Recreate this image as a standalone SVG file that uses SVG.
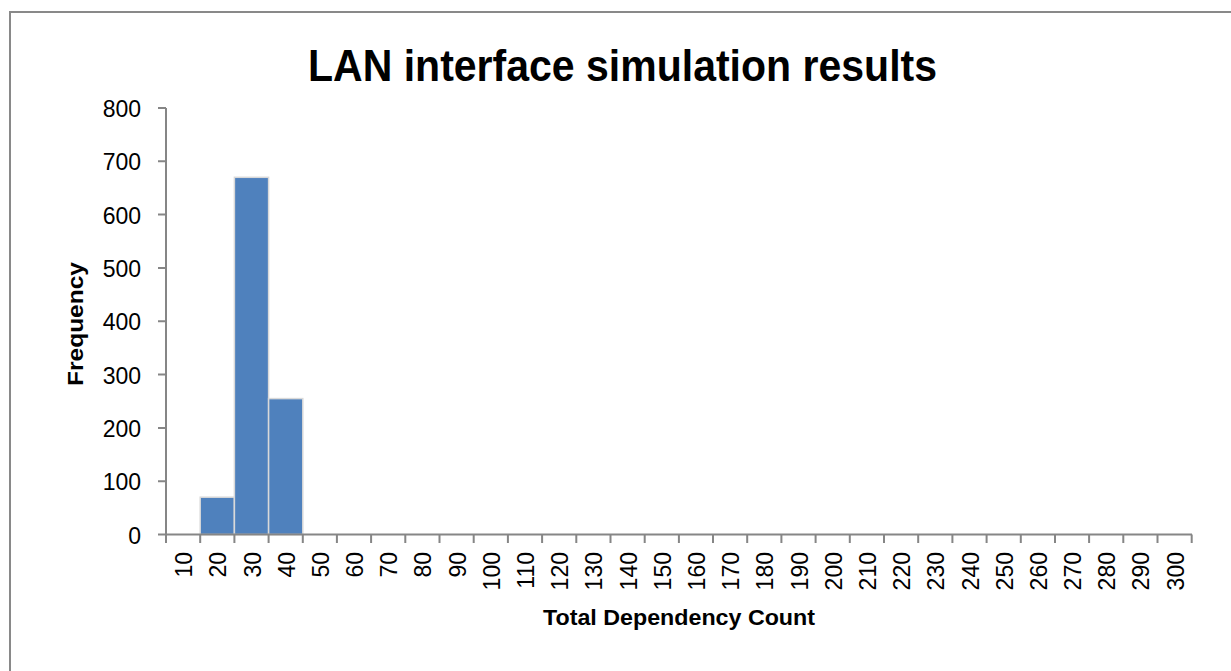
<svg xmlns="http://www.w3.org/2000/svg" width="1231" height="671" viewBox="0 0 1231 671">
  <style>
    .frame { fill: #ffffff; stroke: #898989; stroke-width: 2; }
    .axis { stroke: #868686; stroke-width: 2; fill: none; }
    .bar { fill: #4f81bd; stroke: #d9d9d9; stroke-width: 1.5; }
    .tick { font-family: "Liberation Sans", Arial, sans-serif; font-size: 23px; fill: #000000; }
    .title { font-family: "Liberation Sans", Arial, sans-serif; font-weight: bold; fill: #000000; }
  </style>

  <!-- chart area frame -->
  <rect class="frame" x="10" y="12" width="1240" height="680"/>

  <!-- chart title -->
  <g id="chart-title">
    <text class="title" x="622.5" y="81" font-size="44" text-anchor="middle" textLength="629" lengthAdjust="spacingAndGlyphs">LAN interface simulation results</text>
  </g>

  <!-- histogram bars (bin width 34.19 px, 0.5331 px per count) -->
  <g id="bars">
    <rect class="bar" x="200.2" y="497.2" width="34.2" height="37.3"/>
    <rect class="bar" x="234.4" y="177.3" width="34.2" height="357.2"/>
    <rect class="bar" x="268.6" y="398.6" width="34.2" height="135.9"/>
  </g>

  <!-- axes with tick marks -->
  <g id="axes">
    <path class="axis" d="M166 108 V534.5 M166 534.5 H1192"/>
    <path class="axis" d="M158 108 H166 M158 161.3 H166 M158 214.6 H166 M158 267.9 H166 M158 321.2 H166 M158 374.6 H166 M158 427.9 H166 M158 481.2 H166 M158 534.5 H166"/>
    <path class="axis" d="M166 534.5 V543 M200.2 534.5 V543 M234.4 534.5 V543 M268.6 534.5 V543 M302.8 534.5 V543 M336.9 534.5 V543 M371.1 534.5 V543 M405.3 534.5 V543 M439.5 534.5 V543 M473.7 534.5 V543 M507.9 534.5 V543 M542.1 534.5 V543 M576.3 534.5 V543 M610.5 534.5 V543 M644.7 534.5 V543 M678.9 534.5 V543 M713 534.5 V543 M747.2 534.5 V543 M781.4 534.5 V543 M815.6 534.5 V543 M849.8 534.5 V543 M884 534.5 V543 M918.2 534.5 V543 M952.4 534.5 V543 M986.6 534.5 V543 M1020.8 534.5 V543 M1055 534.5 V543 M1089.1 534.5 V543 M1123.3 534.5 V543 M1157.5 534.5 V543 M1191.7 534.5 V543"/>
  </g>

  <!-- value axis labels -->
  <g id="y-labels" class="tick" text-anchor="end">
    <text x="141" y="117">800</text>
    <text x="141" y="170.3">700</text>
    <text x="141" y="223.6">600</text>
    <text x="141" y="276.9">500</text>
    <text x="141" y="330.2">400</text>
    <text x="141" y="383.6">300</text>
    <text x="141" y="436.9">200</text>
    <text x="141" y="490.2">100</text>
    <text x="141" y="543.5">0</text>
  </g>

  <!-- category axis labels, rotated -->
  <g id="x-labels" class="tick" text-anchor="end">
    <text transform="translate(192.1 552) rotate(-90)">10</text>
    <text transform="translate(226.3 552) rotate(-90)">20</text>
    <text transform="translate(260.5 552) rotate(-90)">30</text>
    <text transform="translate(294.7 552) rotate(-90)">40</text>
    <text transform="translate(328.9 552) rotate(-90)">50</text>
    <text transform="translate(363 552) rotate(-90)">60</text>
    <text transform="translate(397.2 552) rotate(-90)">70</text>
    <text transform="translate(431.4 552) rotate(-90)">80</text>
    <text transform="translate(465.6 552) rotate(-90)">90</text>
    <text transform="translate(499.8 552) rotate(-90)">100</text>
    <text transform="translate(534 552) rotate(-90)">110</text>
    <text transform="translate(568.2 552) rotate(-90)">120</text>
    <text transform="translate(602.4 552) rotate(-90)">130</text>
    <text transform="translate(636.6 552) rotate(-90)">140</text>
    <text transform="translate(670.8 552) rotate(-90)">150</text>
    <text transform="translate(704.9 552) rotate(-90)">160</text>
    <text transform="translate(739.1 552) rotate(-90)">170</text>
    <text transform="translate(773.3 552) rotate(-90)">180</text>
    <text transform="translate(807.5 552) rotate(-90)">190</text>
    <text transform="translate(841.7 552) rotate(-90)">200</text>
    <text transform="translate(875.9 552) rotate(-90)">210</text>
    <text transform="translate(910.1 552) rotate(-90)">220</text>
    <text transform="translate(944.3 552) rotate(-90)">230</text>
    <text transform="translate(978.5 552) rotate(-90)">240</text>
    <text transform="translate(1012.7 552) rotate(-90)">250</text>
    <text transform="translate(1046.8 552) rotate(-90)">260</text>
    <text transform="translate(1081 552) rotate(-90)">270</text>
    <text transform="translate(1115.2 552) rotate(-90)">280</text>
    <text transform="translate(1149.4 552) rotate(-90)">290</text>
    <text transform="translate(1183.6 552) rotate(-90)">300</text>
  </g>

  <!-- axis titles -->
  <g id="axis-titles">
    <text class="title" transform="translate(83 324) rotate(-90)" font-size="22" text-anchor="middle" textLength="124" lengthAdjust="spacingAndGlyphs">Frequency</text>
    <text class="title" x="679" y="625" font-size="22" text-anchor="middle" textLength="272" lengthAdjust="spacingAndGlyphs">Total Dependency Count</text>
  </g>
</svg>
